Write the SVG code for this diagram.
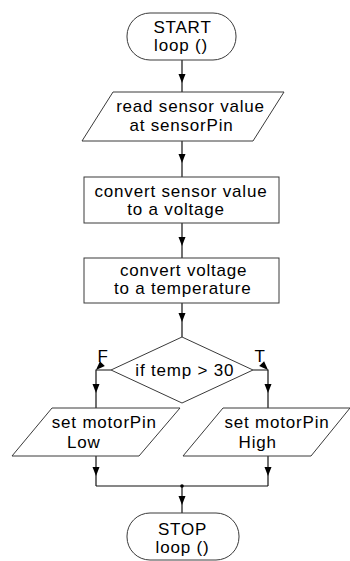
<svg xmlns="http://www.w3.org/2000/svg" width="350" height="561" viewBox="0 0 350 561">
<defs>
<marker id="arr" markerUnits="userSpaceOnUse" viewBox="-1 -5 11 10" markerWidth="11" markerHeight="10" refX="9" refY="0" orient="auto">
<path d="M0,-3.5 L9,0 L0,3.5 z" fill="#000"/>
</marker>
<style>
.shape{fill:#fff;stroke:#3a3a3a;stroke-width:1}
.conn{fill:none;stroke:#111;stroke-width:1.2;marker-mid:url(#arr)}
.plain{fill:none;stroke:#111;stroke-width:1.2}
text{font-family:"Liberation Sans",Arial,sans-serif;font-size:17px;letter-spacing:0.8px;fill:#000;text-anchor:middle}
</style>
</defs>
<rect width="350" height="561" fill="#fff"/>
<g id="connectors">
<path class="conn" d="M182,60 L182,83 L182,92"/>
<path class="conn" d="M182,141 L182,163 L182,177"/>
<path class="conn" d="M182,223 L182,246 L182,258"/>
<path class="conn" d="M182,303 L182,322 L182,337"/>
<path class="conn" d="M111,370 L96,370 L96,393 L96,408"/>
<path class="conn" d="M253,370 L268,370 L268,393 L268,408"/>
<path class="conn" d="M96,456 L96,476 L96,486"/>
<path class="conn" d="M268,456 L268,476 L268,486"/>
<path class="plain" d="M96,486 L268,486"/>
<path class="conn" d="M182,486 L182,505 L182,513"/>
<circle cx="182" cy="486" r="1.8" fill="#000"/>
</g>
<g id="start">
<rect class="shape" x="127" y="13" width="109" height="47" rx="23" ry="23"/>
<text><tspan x="182.5" y="33">START</tspan><tspan x="181" y="51">loop ()</tspan></text>
</g>
<g id="read">
<polygon class="shape" points="113,92 284,92 253,141 82,141"/>
<text><tspan x="190.5" y="112">read sensor value</tspan><tspan x="181.5" y="131">at sensorPin</tspan></text>
</g>
<g id="convert1">
<rect class="shape" x="84" y="177" width="195" height="46"/>
<text><tspan x="181" y="197">convert sensor value</tspan><tspan x="176" y="214.5">to a voltage</tspan></text>
</g>
<g id="convert2">
<rect class="shape" x="84" y="258" width="195" height="45"/>
<text><tspan x="183.7" y="276">convert voltage</tspan><tspan x="182.8" y="294">to a temperature</tspan></text>
</g>
<g id="decision">
<polygon class="shape" points="182,337 253,370 182,403 111,370"/>
<text x="184.8" y="376">if temp &gt; 30</text>
</g>
<g id="labels">
<text x="103" y="362">F</text>
<text x="260" y="362">T</text>
</g>
<g id="low">
<polygon class="shape" points="52,408 180,408 139,456 12,456"/>
<text><tspan x="104.3" y="428">set motorPin</tspan><tspan x="83.7" y="448">Low</tspan></text>
</g>
<g id="high">
<polygon class="shape" points="223,408 350,408 311,456 183,456"/>
<text><tspan x="277" y="428">set motorPin</tspan><tspan x="257.7" y="448">High</tspan></text>
</g>
<g id="stop">
<rect class="shape" x="127" y="513" width="112" height="47" rx="23" ry="23"/>
<text><tspan x="182.5" y="535">STOP</tspan><tspan x="182.5" y="552.5">loop ()</tspan></text>
</g>
</svg>
